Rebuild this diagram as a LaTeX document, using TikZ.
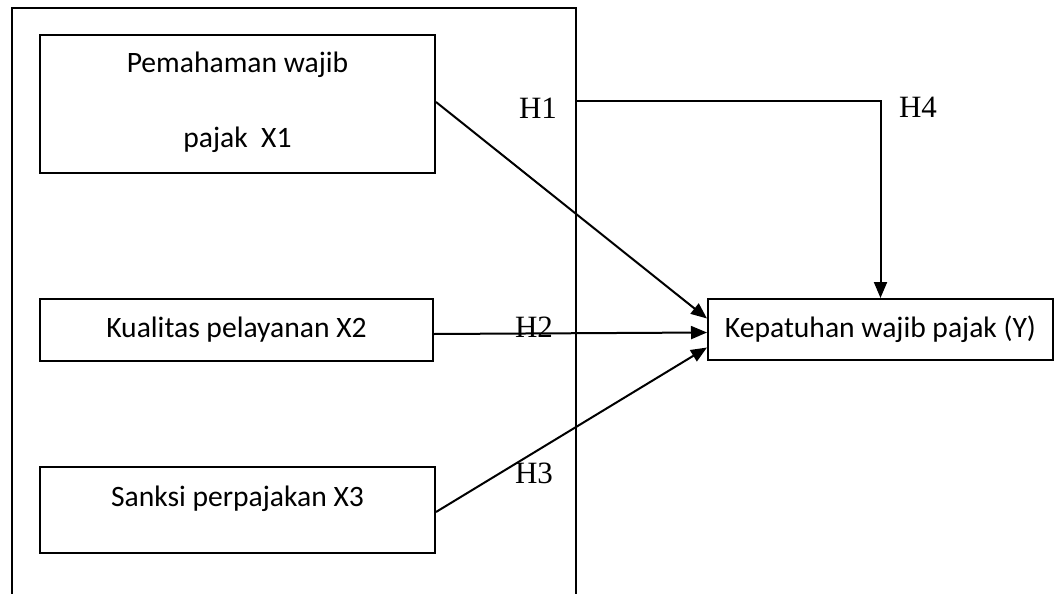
\documentclass[tikz,border=0pt]{standalone}
\usepackage{fontspec}
\setmainfont{Carlito}
\newfontfamily\hfont{Liberation Serif}
\usetikzlibrary{arrows.meta,calc}
\tikzset{
  box/.style={draw, line width=2pt, rectangle, inner sep=0pt, font=\fontsize{29.6}{35}\selectfont, align=center},
  txt/.style={inner sep=0pt, font=\fontsize{29.6}{35}\selectfont},
  hlab/.style={inner sep=0pt, font=\hfont\fontsize{31}{36}\selectfont},
  ln/.style={line width=2pt},
  arr/.style={line width=2pt, -{Triangle[length=16pt,width=13pt]}}
}
\begin{document}
\begin{tikzpicture}[x=1pt,y=-1pt]
\useasboundingbox (0,0) rectangle (1055,594);
% outer frame
\draw[ln] (12,594) -- (12,8) -- (576,8) -- (576,594);
% boxes
\node[box, minimum width=395pt, minimum height=138pt] (X1) at (237.5,104) {};
\node[txt] (X1a) at (237.5,65) {Pemahaman wajib};
\node[txt] (X1b) at (237.5,140) {pajak\ \ X1};
\node[box, minimum width=393pt, minimum height=62pt] (X2) at (236.5,330) {Kualitas pelayanan X2};
\node[box, minimum width=395pt, minimum height=86pt] (X3) at (237.5,510) {};
\node[txt] (X3t) at (237.5,499) {Sanksi perpajakan X3};
\node[box, minimum width=345pt, minimum height=61pt] (Y) at (880.5,329.5) {Kepatuhan wajib pajak (Y)};
% labels
\node[hlab] (H1) at (538,108) {H1};
\node[hlab] (H2) at (534,327) {H2};
\node[hlab] (H3) at (534,473) {H3};
\node[hlab] (H4) at (918,107) {H4};
% connectors
\coordinate (h4s) at (576,101);
\draw[arr] ([yshift=2pt]X1.east) -- ([yshift=11pt]Y.west);
\draw[arr] ([yshift=-4pt]X2.east) -- ([yshift=-3pt]Y.west);
\draw[arr] ([yshift=-2pt]X3.east) -- ([yshift=-18pt]Y.west);
\draw[arr] (h4s) -| (Y.north);
\end{tikzpicture}
\end{document}
